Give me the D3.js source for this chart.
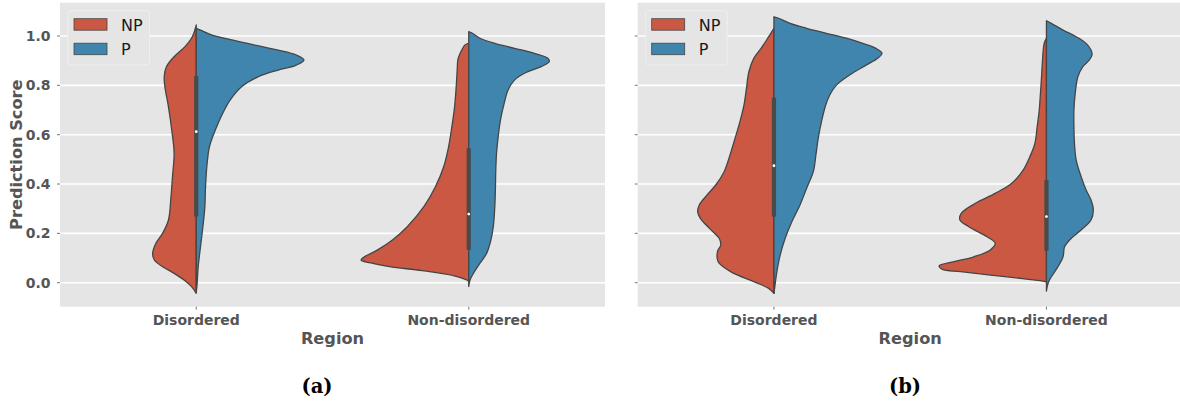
<!DOCTYPE html>
<html>
<head>
<meta charset="utf-8">
<script src="https://cdn.jsdelivr.net/npm/d3@7/dist/d3.min.js"></script>
<style>
  html, body { margin: 0; padding: 0; background: #fff; }
  svg { display: block; }
</style>
</head>
<body>
<svg id="chart" width="1180" height="404"></svg>
<script>
// ---------- DATA ----------
const regions = ["Disordered", "Non-disordered"];
const groups = ["NP", "P"];
const yTicks = [0.0, 0.2, 0.4, 0.6, 0.8, 1.0];
const panelLabels = ["(a)", "(b)"];

// density profiles: [prediction score, relative density (1 = widest)]
const aDisNP = [[1.045,0],[0.997,.036],[0.957,.103],[0.916,.203],[0.876,.273],[0.835,.294],[0.795,.288],[0.713,.255],[0.619,.225],[0.525,.203],[0.430,.218],[0.335,.234],[0.254,.255],[0.200,.309],[0.160,.370],[0.119,.400],[0.092,.385],[0.065,.309],[0.038,.203],[0.011,.112],[-0.016,.043],[-0.043,0]];
const aDisP = [[1.031,0],[1.024,.039],[1.004,.145],[0.984,.327],[0.963,.539],[0.943,.752],[0.923,.918],[0.903,.988],[0.882,.918],[0.862,.752],[0.835,.570],[0.795,.418],[0.741,.312],[0.687,.243],[0.619,.175],[0.551,.121],[0.484,.100],[0.389,.085],[0.308,.079],[0.227,.061],[0.146,.039],[0.065,.018],[-0.016,.006],[-0.036,0]];
const aNonNP = [[0.970,0],[0.964,.034],[0.930,.079],[0.903,.100],[0.862,.106],[0.795,.115],[0.713,.130],[0.632,.155],[0.551,.185],[0.470,.230],[0.389,.306],[0.308,.412],[0.227,.564],[0.173,.700],[0.133,.836],[0.105,.957],[0.092,.988],[0.081,.909],[0.065,.727],[0.049,.427],[0.027,.125],[0.011,.018],[0.005,0]];
const aNonP = [[1.018,0],[1.011,.034],[0.991,.103],[0.970,.239],[0.950,.421],[0.930,.603],[0.910,.725],[0.896,.739],[0.876,.664],[0.849,.512],[0.822,.421],[0.781,.361],[0.727,.325],[0.660,.291],[0.592,.270],[0.525,.255],[0.457,.248],[0.389,.245],[0.308,.239],[0.227,.225],[0.173,.203],[0.119,.164],[0.079,.103],[0.038,.043],[0.011,.012],[-0.015,0]];
const bDisNP = [[1.031,0],[0.991,.057],[0.950,.118],[0.910,.185],[0.855,.230],[0.788,.252],[0.720,.275],[0.653,.312],[0.585,.357],[0.518,.403],[0.450,.457],[0.396,.534],[0.355,.615],[0.315,.685],[0.288,.700],[0.261,.675],[0.221,.594],[0.180,.503],[0.153,.488],[0.126,.518],[0.085,.512],[0.045,.397],[0.004,.185],[-0.023,.048],[-0.043,0]];
const bDisP = [[1.078,0],[1.072,.043],[1.051,.148],[1.031,.300],[1.011,.482],[0.991,.664],[0.970,.815],[0.950,.936],[0.930,.991],[0.910,.952],[0.882,.845],[0.842,.694],[0.801,.573],[0.761,.512],[0.720,.475],[0.653,.436],[0.585,.406],[0.518,.385],[0.450,.361],[0.383,.300],[0.315,.239],[0.247,.164],[0.180,.103],[0.112,.057],[0.045,.027],[-0.023,.006],[-0.043,0]];
const bNonNP = [[0.991,0],[0.970,.021],[0.903,.036],[0.835,.045],[0.768,.055],[0.700,.066],[0.632,.085],[0.565,.106],[0.511,.152],[0.457,.212],[0.403,.318],[0.362,.470],[0.322,.652],[0.281,.782],[0.254,.794],[0.227,.712],[0.186,.545],[0.160,.470],[0.133,.515],[0.105,.666],[0.085,.848],[0.068,.985],[0.054,.955],[0.045,.788],[0.031,.515],[0.018,.243],[0.008,.061],[0.003,0]];
const bNonP = [[1.062,0],[1.051,.045],[1.024,.152],[0.997,.273],[0.970,.364],[0.943,.409],[0.923,.418],[0.903,.394],[0.876,.334],[0.835,.288],[0.768,.264],[0.700,.252],[0.632,.252],[0.565,.257],[0.497,.273],[0.430,.318],[0.376,.364],[0.335,.409],[0.295,.430],[0.254,.409],[0.214,.318],[0.173,.212],[0.146,.166],[0.105,.152],[0.065,.106],[0.024,.045],[-0.002,.015],[-0.034,0]];

// inner box: [q1, median, q3] per region
const aBox = [[0.268, 0.612, 0.838], [0.133, 0.278, 0.545]];
const bBox = [[0.268, 0.474, 0.750], [0.130, 0.268, 0.416]];

// ---------- DRAW ----------
const colors = { NP: "#CA5843", P: "#4085AE" };
const edge = "#454545";
const tickColor = "#555555";
const svg = d3.select("#chart");

const panels = [
  { left: 60,    right: 605,    caption: panelLabels[0], captionX: 317, yLabels: true,
    violins: [[aDisNP, aDisP], [aNonNP, aNonP]], box: aBox },
  { left: 637.7, right: 1182.7, caption: panelLabels[1], captionX: 905, yLabels: false,
    violins: [[bDisNP, bDisP], [bNonNP, bNonP]], box: bBox }
];

const y = d3.scaleLinear().domain([0, 1]).range([282.7, 36]);
const yTop = y(1.135), yBot = y(-0.0973);
const halfWidth = d3.scaleLinear().domain([0, 1]).range([0, 0.4]); // category units

panels.forEach(p => {
  const x = d3.scaleLinear().domain([-0.5, 1.5]).range([p.left, p.right]);
  const g = svg.append("g");

  // background
  g.append("rect").attr("x", p.left).attr("y", yTop)
    .attr("width", p.right - p.left).attr("height", yBot - yTop)
    .attr("fill", "#e5e5e5");

  // grid
  g.selectAll("line.grid").data(yTicks).enter().append("line")
    .attr("x1", p.left).attr("x2", p.right)
    .attr("y1", d => y(d)).attr("y2", d => y(d))
    .attr("stroke", "#ffffff").attr("stroke-width", 1.6);

  // y ticks
  g.selectAll("line.yt").data(yTicks).enter().append("line")
    .attr("x1", p.left - 3).attr("x2", p.left)
    .attr("y1", d => y(d)).attr("y2", d => y(d))
    .attr("stroke", tickColor).attr("stroke-width", 0.8);
  if (p.yLabels) {
    g.selectAll("text.yt").data(yTicks).enter().append("text")
      .attr("x", p.left - 9.5).attr("y", d => y(d))
      .attr("dy", "0.36em").attr("text-anchor", "end")
      .attr("font-family", "DejaVu Sans").attr("font-weight", "bold")
      .attr("font-size", 14).attr("fill", tickColor)
      .text(d => d.toFixed(1));
    svg.append("text")
      .attr("transform", `translate(21.5,${(yTop + yBot) / 2}) rotate(-90)`)
      .attr("text-anchor", "middle")
      .attr("font-family", "DejaVu Sans").attr("font-weight", "bold")
      .attr("font-size", 16.2).attr("fill", tickColor)
      .text("Prediction Score");
  }

  // x ticks & labels
  regions.forEach((r, i) => {
    g.append("line").attr("x1", x(i)).attr("x2", x(i))
      .attr("y1", yBot).attr("y2", yBot + 3)
      .attr("stroke", tickColor).attr("stroke-width", 0.8);
    g.append("text").attr("x", x(i)).attr("y", 324.5)
      .attr("text-anchor", "middle")
      .attr("font-family", "DejaVu Sans").attr("font-weight", "bold")
      .attr("font-size", 14).attr("fill", tickColor)
      .text(r);
  });
  g.append("text").attr("x", (p.left + p.right) / 2).attr("y", 344)
    .attr("text-anchor", "middle")
    .attr("font-family", "DejaVu Sans").attr("font-weight", "bold")
    .attr("font-size", 16.2).attr("fill", tickColor)
    .text("Region");

  // violins
  regions.forEach((r, i) => {
    groups.forEach((grp, k) => {
      const data = p.violins[i][k];
      const sign = k === 0 ? -1 : 1;
      const area = d3.area()
        .y(d => y(d[0]))
        .x0(() => x(i))
        .x1(d => x(i + sign * halfWidth(d[1])))
        .curve(d3.curveCatmullRom.alpha(0.5));
      g.append("path").datum(data)
        .attr("d", area)
        .attr("fill", colors[grp])
        .attr("stroke", edge).attr("stroke-width", 1.3)
        .attr("stroke-linejoin", "round");
    });
    const [q1, med, q3] = p.box[i];
    g.append("line").attr("x1", x(i)).attr("x2", x(i))
      .attr("y1", y(q1)).attr("y2", y(q3))
      .attr("stroke", "#4a4a4a").attr("stroke-width", 4.2);
    g.append("circle").attr("cx", x(i)).attr("cy", y(med)).attr("r", 1.4)
      .attr("fill", "#ffffff");
  });

  // legend
  const lx = p.left + 8, ly = 10.7;
  const lg = g.append("g");
  lg.append("rect").attr("x", lx).attr("y", ly).attr("width", 81.5).attr("height", 54.3)
    .attr("rx", 3).attr("fill", "#e5e5e5").attr("stroke", "#efefef").attr("stroke-width", 1);
  groups.forEach((grp, k) => {
    lg.append("rect").attr("x", lx + 6).attr("y", ly + 8 + k * 24.5)
      .attr("width", 33).attr("height", 11.5)
      .attr("fill", colors[grp]).attr("stroke", edge).attr("stroke-width", 0.8);
    lg.append("text").attr("x", lx + 53).attr("y", ly + 20 + k * 24.5)
      .attr("font-family", "DejaVu Sans").attr("font-size", 16).attr("fill", "#1a1a1a")
      .text(grp);
  });

  // caption
  svg.append("text").attr("x", p.captionX).attr("y", 393)
    .attr("text-anchor", "middle")
    .attr("font-family", "DejaVu Serif").attr("font-weight", "bold")
    .attr("font-size", 19.5).attr("fill", "#000")
    .text(p.caption);
});
</script>
</body>
</html>
